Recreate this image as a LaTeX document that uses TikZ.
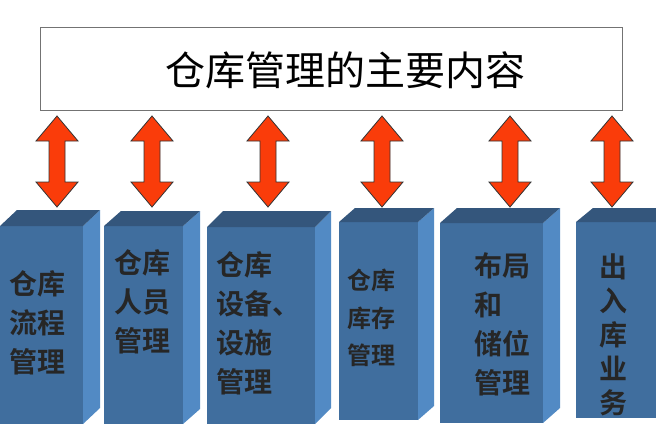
\documentclass[tikz,border=0pt]{standalone}
\usepackage{fontspec}
\newfontfamily\cjk{Noto Sans CJK SC}
\newfontfamily\cjkb{Noto Sans CJK SC Bold}
\definecolor{front}{RGB}{64,110,158}
\definecolor{side}{RGB}{82,138,196}
\definecolor{topc}{RGB}{52,86,124}
\definecolor{arr}{RGB}{250,60,10}
\tikzset{
  boxtext/.style={font=\cjkb\fontsize{28}{39}\selectfont, align=left, anchor=north west, inner sep=0pt, text=black!85},
  dblarrow/.style={fill=arr, draw=black!80, line width=0.8pt, line join=miter},
}
\newcommand{\prism}[6]{% x1 x2 ytop ybot depthx depthy
  \fill[front] (#1,#3) rectangle (#2,#4);
  \fill[side] (#2,#3) -- (#2+#5,#3-#6) -- (#2+#5,#4-#6) -- (#2,#4) -- cycle;
  \fill[topc] (#1,#3) -- (#1+#5,#3-#6) -- (#2+#5,#3-#6) -- (#2,#3) -- cycle;
}
\newcommand{\darrow}[1]{%
  \draw[dblarrow] (#1,116) -- (#1+21,141) -- (#1+8,141) -- (#1+8,182) -- (#1+21,182) -- (#1,207)
   -- (#1-21,182) -- (#1-8,182) -- (#1-8,141) -- (#1-21,141) -- cycle;
}
\begin{document}
\begin{tikzpicture}[x=1pt,y=-1pt]
\useasboundingbox (0,0) rectangle (656,424);
\fill[white] (0,0) rectangle (656,424);
\node[draw=black!55, line width=0.8pt, minimum width=582pt, minimum height=83pt, inner sep=0pt] (title) at (331,68.5) {};
\node[font=\cjk\fontsize{40}{44}\selectfont] (titletext) at (345,70) {仓库管理的主要内容};
\foreach \x in {57,152,268,382,510,612} {\darrow{\x}}
\prism{0}{83}{226}{424}{17}{16}
\prism{104}{183}{226}{424}{17}{15}
\prism{207}{315}{227}{424}{16}{16}
\prism{339}{418}{222}{420}{16}{14}
\prism{440}{543}{223}{423}{17}{15}
\prism{576}{656}{222}{418}{17}{14}
\node[boxtext] (b1) at (9,270) {仓库\\流程\\管理};
\node[boxtext] (b2) at (114,249) {仓库\\人员\\管理};
\node[boxtext] (b3) at (216,251) {仓库\\设备、\\设施\\管理};
\node[boxtext, font=\cjkb\fontsize{24}{37.5}\selectfont] (b4) at (347,269) {仓库\\库存\\管理};
\node[boxtext] (b5) at (474,252) {布局\\和\\储位\\管理};
\node[boxtext, align=center, anchor=north, font=\cjkb\fontsize{28}{34}\selectfont] (b6) at (613,254) {出\\入\\库\\业\\务};
\end{tikzpicture}
\end{document}
